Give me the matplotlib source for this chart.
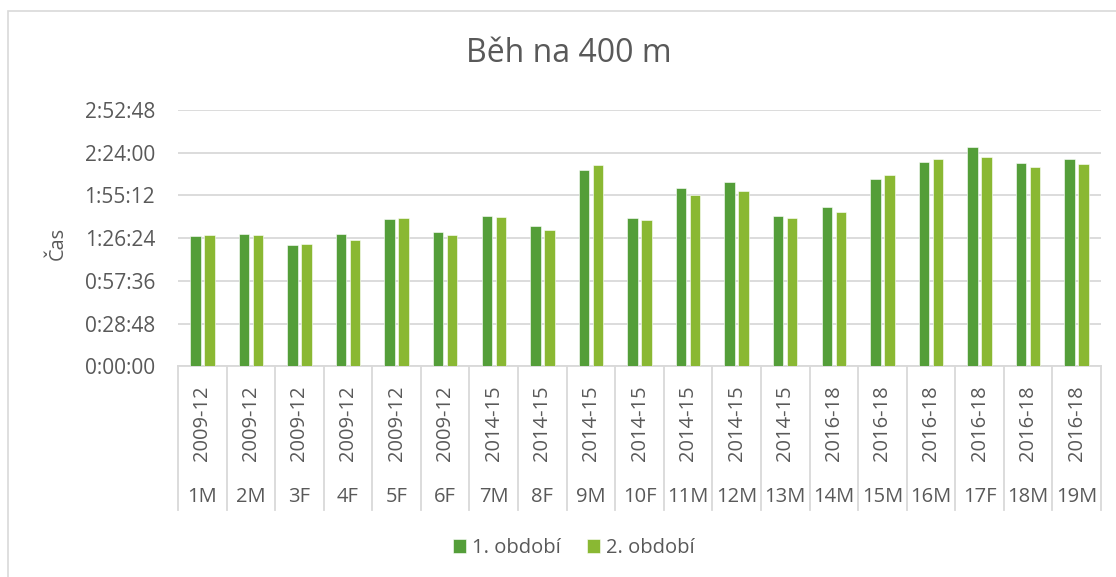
import matplotlib
matplotlib.use("Agg")
import matplotlib.pyplot as plt
from matplotlib.ticker import FixedLocator, FuncFormatter
from matplotlib.transforms import blended_transform_factory
from matplotlib.patches import Rectangle
import numpy as np

# ---- data (times in seconds) ----
codes = ["1M", "2M", "3F", "4F", "5F", "6F", "7M", "8F", "9M", "10F",
         "11M", "12M", "13M", "14M", "15M", "16M", "17F", "18M", "19M"]
years = ["2009-12"] * 6 + ["2014-15"] * 7 + ["2016-18"] * 6
period1 = [5261, 5341, 4909, 5369, 5946, 5434, 6068, 5692, 7953, 6015,
           7198, 7468, 6096, 6431, 7590, 8260, 8865, 8207, 8381]
period2 = [5300, 5300, 4950, 5111, 6015, 5329, 6027, 5502, 8126, 5934,
           6944, 7105, 5999, 6229, 7723, 8397, 8462, 8058, 8195]
series_names = ["1. období", "2. období"]
yticks = [0, 1728, 3456, 5184, 6912, 8640, 10368]

TXT = "#595959"
GRID = "#D9D9D9"
C1 = "#549E39"
C2 = "#8AB833"
FONT = ["Open Sans", "DejaVu Sans"]
plt.rcParams["font.family"] = FONT

W, H = 1116, 577
fig = plt.figure(figsize=(W / 100, H / 100), dpi=100)

# chart border
fig.patches.append(Rectangle((8 / W, -0.05), 1.2, 1 - 11 / H + 0.05,
                             transform=fig.transFigure, fill=False,
                             edgecolor=GRID, linewidth=1.2))

ax_l, ax_r, ax_t, ax_b = 178, 1101, 110, 366.3
ax = fig.add_axes([ax_l / W, 1 - ax_b / H, (ax_r - ax_l) / W, (ax_b - ax_t) / H])

n = len(codes)
x = np.arange(n)
bw = 0.215
off = 0.144
ax.bar(x - off, period1, width=bw, color=C1, edgecolor="white", linewidth=0.4,
       label=series_names[0], zorder=3)
ax.bar(x + off, period2, width=bw, color=C2, edgecolor="white", linewidth=0.4,
       label=series_names[1], zorder=3)

ax.set_xlim(-0.5, n - 0.5)
ax.set_ylim(0, yticks[-1])
ax.yaxis.set_major_locator(FixedLocator(yticks))


def fmt(v, pos):
    v = int(round(v))
    return f"{v // 3600}:{(v % 3600) // 60:02d}:{v % 60:02d}"


ax.yaxis.set_major_formatter(FuncFormatter(fmt))
ax.grid(axis="y", color=GRID, linewidth=1.3, zorder=0)
ax.tick_params(axis="y", length=0, pad=16.5, labelsize=15, labelcolor=TXT)
ax.set_xticks([])
for s in ["top", "right", "left"]:
    ax.spines[s].set_visible(False)
ax.spines["bottom"].set_color(GRID)
ax.spines["bottom"].set_linewidth(1.3)

# multi-level category axis
axh = ax_b - ax_t
tr = blended_transform_factory(ax.transData, ax.transAxes)
y_year = -(423 - ax_b) / axh
y_code = -(497 - ax_b) / axh
y_end = -(510 - ax_b) / axh
for i in range(n):
    ax.text(x[i], y_year, years[i], rotation=90, ha="center", va="center",
            fontsize=14.5, color=TXT, transform=tr, clip_on=False)
    ax.text(x[i], y_code, codes[i], ha="center", va="center",
            fontsize=14.5, color=TXT, transform=tr, clip_on=False)
for b in np.arange(n + 1) - 0.5:
    ax.plot([b, b], [0, y_end], color=GRID, linewidth=1.3, transform=tr,
            clip_on=False, zorder=1)

# y label
fig.text(58 / W, 1 - 243 / H, "Čas", rotation=90, ha="center", va="center",
         fontsize=14.3, color=TXT)

# title
fig.text(569 / W, 1 - 54 / H, "Běh na 400 m", ha="center", va="center",
         fontsize=23, color=TXT)

# legend
leg = fig.legend(loc="center", bbox_to_anchor=(574 / W, 1 - 548 / H),
                 ncol=2, frameon=False, fontsize=14.5, handlelength=0.65,
                 handleheight=0.65, handletextpad=0.3, columnspacing=1.3,
                 labelcolor=TXT)

fig.savefig("out.png", dpi=100)
